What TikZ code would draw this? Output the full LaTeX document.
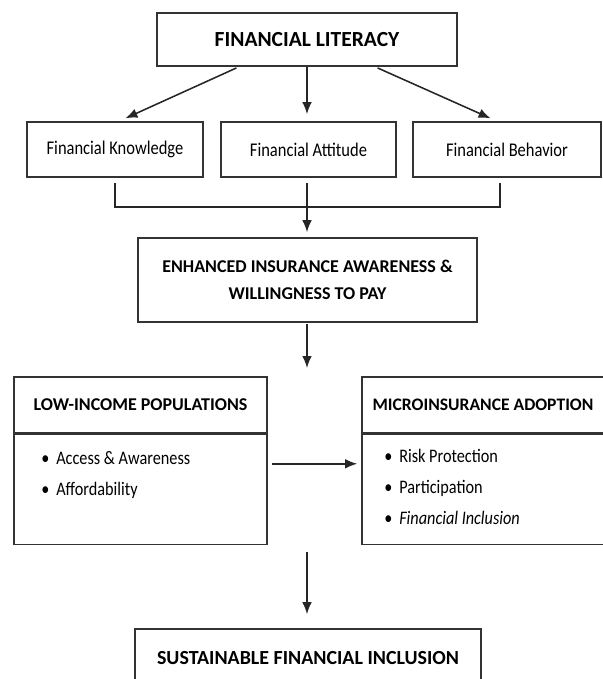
\documentclass[tikz,border=0pt]{standalone}
\usepackage{fontspec}
\setmainfont{Carlito}
\newfontfamily\bodyfont{Carlito}[FakeStretch=0.85]
\usetikzlibrary{arrows.meta,positioning}

\begin{document}
\begin{tikzpicture}[
		x=0.025cm, y=-0.025cm,
		every node/.style={align=center, inner sep=0pt},
		box/.style={rectangle, draw=black!80, line width=1.1pt, font=\bodyfont\fontsize{13.8}{15}\selectfont},
		headbox/.style={box, font=\normalfont\bfseries\fontsize{#1}{19}\selectfont},
		headbox/.default=12.8,
		itemlist/.style={align=left, anchor=north west, font=\bodyfont\fontsize{13.6}{22}\selectfont},
		line/.style={line width=1.1pt, draw=black!85},
		arrow/.style={line, -{Latex[length=3mm,width=2.4mm]}}
		]
		\useasboundingbox (0,0) rectangle (603,679);
		
		% Top: Financial Literacy
		\node[headbox=15.3, minimum width=7.5cm, minimum height=1.325cm] (literacy) at (307,39.5) {FINANCIAL LITERACY};
		
		% Three dimensions
		\node[box, minimum width=4.4cm, minimum height=1.375cm] (knowledge) at (115,149.5) {Financial Knowledge};
		\node[box, minimum width=4.375cm, minimum height=1.375cm] (attitude) at (308.5,149.5) {Financial Attitude};
		\node[box, minimum width=4.7cm, minimum height=1.375cm] (behavior) at (507,149.5) {Financial Behavior};
		
		\draw[arrow, shorten <=2pt, shorten >=5pt] ([xshift=-1.7cm]literacy.south) -- ([xshift=0.1cm]knowledge.north);
		\draw[arrow, shorten >=5pt] (literacy.south) -- (literacy.south |- attitude.north);
		\draw[arrow, shorten <=2pt, shorten >=5pt] ([xshift=1.7cm]literacy.south) -- ([xshift=-0.25cm]behavior.north);
		
		% Bracket into the middle box
		\coordinate (join) at (307,207);
		\draw[line] ([yshift=-0.12cm]knowledge.south) |- (join) -| ([xshift=-0.18cm,yshift=-0.12cm]behavior.south);
		\draw[line] ([yshift=-0.12cm]attitude.south -| join) -- (join);
		
		% Middle: awareness
		\node[headbox, minimum width=8.475cm, minimum height=2.1cm] (enhanced) at (307.5,280) {ENHANCED INSURANCE AWARENESS \&\\WILLINGNESS TO PAY};
		\draw[arrow, shorten >=0.125cm] (join) -- (join |- enhanced.north);
		
		\coordinate (split) at (307,368);
		\draw[arrow, shorten <=1pt] (enhanced.south -| split) -- (split);
		
		% Left: Low-income populations
		\node[headbox, minimum width=6.325cm, minimum height=1.4cm] (lowhead) at (140.5,405) {LOW-INCOME POPULATIONS};
		\node[box, minimum width=6.325cm, minimum height=2.75cm, below=0pt of lowhead] (lowbody) {};
		\node[itemlist] (lowlist) at ([shift={(28,17)}]lowbody.north west) {\textbullet\hspace{0.35em}Access \& Awareness\\\textbullet\hspace{0.35em}Affordability};
		
		% Right: Microinsurance adoption
		\node[headbox=12.5, minimum width=6.05cm, minimum height=1.4cm] (microhead) at (483,405) {MICROINSURANCE ADOPTION};
		\node[box, minimum width=6.05cm, minimum height=2.75cm, below=0pt of microhead] (microbody) {};
		\node[itemlist] (microlist) at ([shift={(23,15)}]microbody.north west) {\textbullet\hspace{0.35em}Risk Protection\\\textbullet\hspace{0.35em}Participation\\\textbullet\hspace{0.35em}\textit{Financial Inclusion}};
		
		\draw[arrow, shorten <=0.1cm, shorten >=0.1cm] ([yshift=-0.75cm]lowbody.north east) -- ([yshift=-0.75cm]microbody.north west);
		
		% Bottom: Sustainable financial inclusion
		\coordinate (merge) at (307,552);
		\node[headbox=14.2, minimum width=8.65cm, minimum height=1.45cm] (sustainable) at (308,658) {SUSTAINABLE FINANCIAL INCLUSION};
		\draw[arrow, shorten >=0.35cm] (merge) -- (merge |- sustainable.north);
		
	\end{tikzpicture}
\end{document}
